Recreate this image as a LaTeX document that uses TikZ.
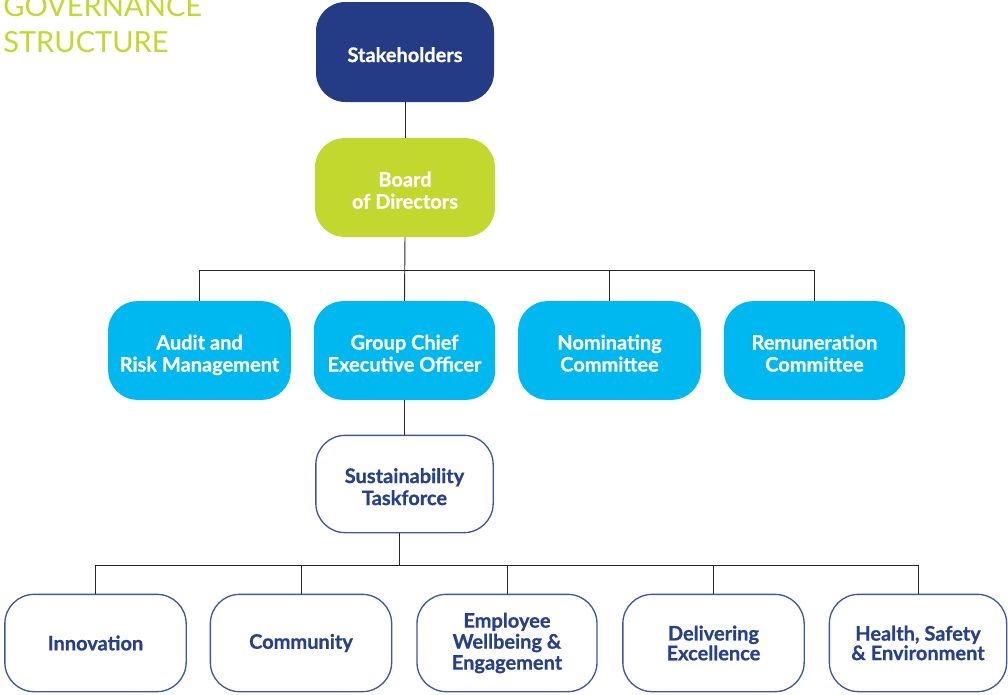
\documentclass[tikz,border=0pt]{standalone}
\usepackage{fontspec}
\setmainfont{Lato}[BoldFeatures={FakeBold=0.8}]
\definecolor{navy}{HTML}{243B86}
\definecolor{lime}{HTML}{C3D82F}
\definecolor{cyanbox}{HTML}{00B8F0}
\definecolor{navytext}{HTML}{26408B}
\definecolor{navyline}{HTML}{3B58A2}
\newcommand{\uptext}[1]{\begin{tabular}{@{}c@{}}\rule{0pt}{20pt}#1\end{tabular}}
\begin{document}
\begin{tikzpicture}[x=0.75pt,y=-0.75pt,
  box/.style={rounded corners=22pt, minimum width=136pt, minimum height=74pt,
    align=center, inner sep=2pt, font=\fontsize{15}{16.5}\selectfont\bfseries},
  filledbox/.style={box, draw=none, text=white},
  outlinebox/.style={box, draw=navyline, line width=1pt, fill=white, text=navytext},
  conn/.style={draw=black!85, line width=0.7pt},
  titletext/.style={anchor=base west, inner sep=0pt, text=lime, font=\fontsize{21.8}{25}\selectfont}]
\useasboundingbox (0,0) rectangle (1008,694);
% title
\node[titletext] (t1) at (3,16) {GOVERNANCE};
\node[titletext] (t2) at (3,52) {STRUCTURE};
% nodes
\node[filledbox, fill=navy, minimum width=133.5pt, minimum height=75pt] (stake) at (405,52) {\uptext{Stakeholders}};
\node[filledbox, fill=lime, minimum width=135pt] (board) at (405,187.5) {\uptext{Board\\of Directors}};
\node[filledbox, fill=cyanbox, minimum width=137pt] (audit) at (199.5,350.5) {\uptext{Audit and\\Risk Management}};
\node[filledbox, fill=cyanbox] (gceo) at (404.5,350.5) {\uptext{Group Chief\\Executive Officer}};
\node[filledbox, fill=cyanbox, minimum width=137pt] (nom) at (609.5,350.5) {\uptext{Nominating\\Committee}};
\node[filledbox, fill=cyanbox] (rem) at (814.5,350.5) {\uptext{Remuneration\\Committee}};
\node[outlinebox, minimum width=133pt, minimum height=73pt] (sust) at (404.5,484) {\uptext{Sustainability\\Taskforce}};
\node[outlinebox, minimum width=136pt, minimum height=73pt] (inno) at (95.5,643) {Innovation};
\node[outlinebox, minimum width=136pt, minimum height=73pt] (comm) at (301,643) {Community};
\node[outlinebox, minimum width=135pt, minimum height=73pt, font=\fontsize{15}{15.75}\selectfont\bfseries] (empl) at (507,643) {Employee\\Wellbeing \&\\Engagement};
\node[outlinebox, minimum width=136pt, minimum height=73pt, font=\fontsize{15}{13.5}\selectfont\bfseries] (deli) at (713.5,643) {Delivering\\Excellence};
\node[outlinebox, minimum width=133pt, minimum height=73pt, font=\fontsize{15}{13.5}\selectfont\bfseries] (hse) at (918,643) {Health, Safety\\\& Environment};
% connectors
\coordinate (bar1) at (0,270);
\coordinate (bar2) at (0,565);
\draw[conn] (stake.south) -- (board.north);
\draw[conn] (board.south) -- (gceo.north);
\draw[conn] (audit.north) -- (audit.north |- bar1) -- (rem.north |- bar1) -- (rem.north);
\draw[conn] (nom.north) -- (nom.north |- bar1);
\draw[conn] (gceo.south) -- (sust.north);
\coordinate (sb) at ([xshift=-4.1pt]sust.south);
\draw[conn] (sb) -- (sb |- bar2);
\draw[conn] (inno.north) -- (inno.north |- bar2) -- (hse.north |- bar2) -- (hse.north);
\draw[conn] (comm.north) -- (comm.north |- bar2);
\draw[conn] (empl.north) -- (empl.north |- bar2);
\draw[conn] (deli.north) -- (deli.north |- bar2);
\end{tikzpicture}
\end{document}
